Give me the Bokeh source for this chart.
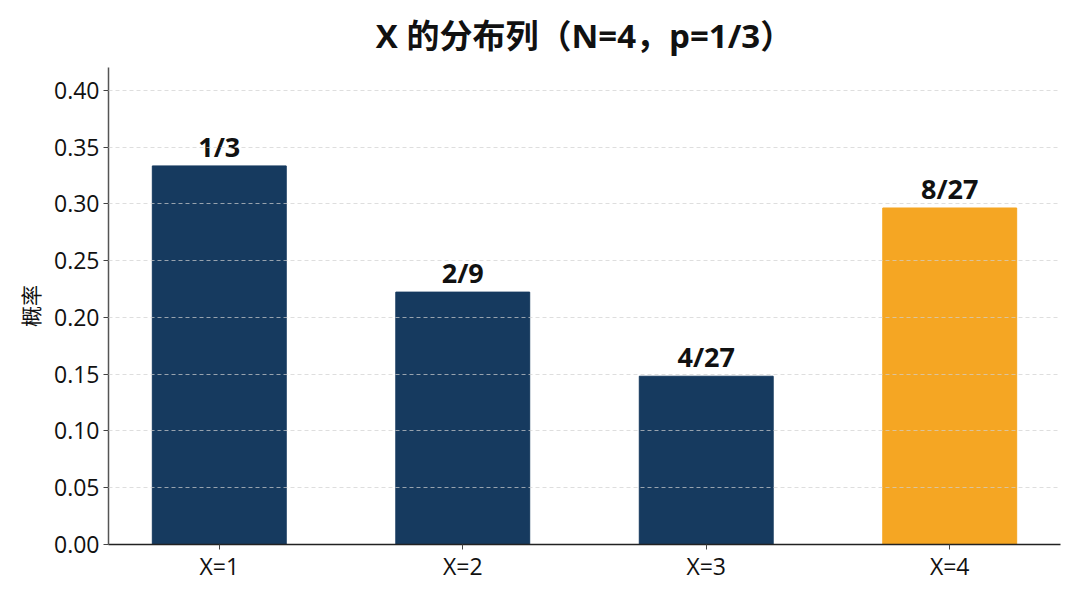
from bokeh.plotting import figure
from bokeh.models import ColumnDataSource, Range1d, FixedTicker, SingleIntervalTicker, NumeralTickFormatter
from bokeh.core.properties import value
from bokeh.embed import file_html
from bokeh.resources import INLINE

categories = ["X=1", "X=2", "X=3", "X=4"]
probabilities = [1/3, 2/9, 4/27, 8/27]
value_labels = ["1/3", "2/9", "4/27", "8/27"]
bar_colors = ["#163A5F", "#163A5F", "#163A5F", "#F5A623"]
title_text = "X 的分布列（N=4，p=1/3）"
y_label = "概率"

FONT = "Open Sans, Noto Sans CJK SC"

xs = list(range(1, len(categories) + 1))
src = ColumnDataSource(dict(x=xs, top=probabilities, label=value_labels, color=bar_colors))

p = figure(width=1064, height=584, output_backend="svg", toolbar_location=None,
           x_range=Range1d(0.545, 4.455), y_range=Range1d(0, 0.42),
           min_border_left=108, min_border_right=4, min_border_top=67, min_border_bottom=39,
           title=title_text)

p.title.align = "center"
p.title.text_font = FONT
p.title.text_font_size = "33px"
p.title.text_font_style = "bold"
p.title.text_color = "#111111"
p.title.text_line_height = 0.9
p.title.standoff = 19

p.vbar(x="x", top="top", width=0.55, color="color", source=src)
p.text(x="x", y="top", text="label", source=src, text_align="center", text_baseline="bottom",
       y_offset=-1, text_font=value(FONT), text_font_size="27px", text_font_style="bold",
       text_color="#111111")

p.outline_line_color = None
p.xgrid.grid_line_color = None
p.ygrid.grid_line_color = "#d0d0d0"
p.ygrid.grid_line_dash = "4 3"
p.ygrid.grid_line_alpha = 0.7
p.ygrid.level = "annotation"

p.xaxis.ticker = FixedTicker(ticks=xs)
p.xaxis.major_label_overrides = {x: c for x, c in zip(xs, categories)}
p.yaxis.ticker = SingleIntervalTicker(interval=0.05)
p.yaxis.formatter = NumeralTickFormatter(format="0.00")
p.yaxis.axis_label = y_label

for ax in (p.xaxis, p.yaxis):
    ax.major_label_text_font = FONT
    ax.major_label_text_font_size = "23px"
    ax.major_label_text_color = "#111111"
    ax.minor_tick_line_color = None
    ax.major_tick_in = 0
    ax.major_tick_out = 5
    ax.axis_line_width = 1.5

p.xaxis.axis_line_color = "#222222"
p.xaxis.major_tick_line_color = "#444444"
p.xaxis.major_label_standoff = 0
p.xaxis.major_label_text_line_height = 0.9
p.yaxis.axis_line_color = "#555555"
p.yaxis.major_tick_line_color = "#444444"
p.yaxis.major_label_standoff = 4
p.yaxis.axis_label_text_font = FONT
p.yaxis.axis_label_text_font_size = "21px"
p.yaxis.axis_label_text_font_style = "normal"
p.yaxis.axis_label_text_color = "#111111"
p.yaxis.axis_label_standoff = 6

open("out.html", "w").write(file_html(p, INLINE))
